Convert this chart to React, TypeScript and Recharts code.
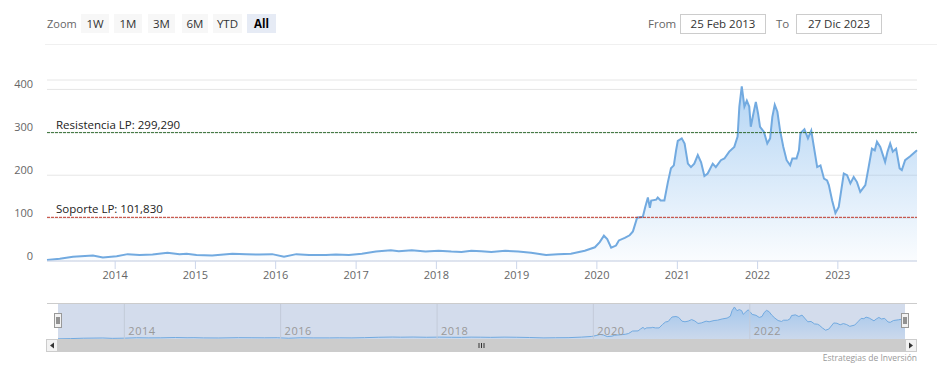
import React from 'react';
import {
  AreaChart,
  Area,
  XAxis,
  YAxis,
  CartesianGrid,
  ReferenceLine,
} from 'recharts';

const dates = [
  '2013-02-25', '2013-04-24', '2013-06-23', '2013-09-22', '2013-11-06',
  '2014-01-08', '2014-02-27', '2014-04-22', '2014-06-20', '2014-08-27', '2014-10-21', '2014-11-22',
  '2015-01-06', '2015-03-18', '2015-06-18', '2015-08-20', '2015-10-18', '2015-12-16',
  '2016-02-08', '2016-04-04', '2016-06-01', '2016-08-17', '2016-10-01', '2016-11-29',
  '2017-01-27', '2017-04-01', '2017-06-08', '2017-07-14', '2017-09-11', '2017-11-13',
  '2018-01-11', '2018-03-10', '2018-04-25', '2018-06-09', '2018-07-24', '2018-09-08', '2018-11-10',
  '2019-01-08', '2019-03-08', '2019-05-15', '2019-07-08', '2019-09-05', '2019-11-07', '2019-12-23',
  '2020-01-14', '2020-02-02', '2020-02-17', '2020-03-06', '2020-03-28', '2020-04-10', '2020-05-07',
  '2020-05-29', '2020-06-13', '2020-07-02', '2020-07-28', '2020-08-08', '2020-08-20', '2020-08-29',
  '2020-09-04', '2020-09-27', '2020-10-04', '2020-10-17', '2020-11-03', '2020-11-19', '2020-12-03',
  '2020-12-16', '2020-12-26',
  '2021-01-03', '2021-01-21', '2021-02-03', '2021-02-18', '2021-03-04', '2021-03-19', '2021-04-04',
  '2021-04-19', '2021-05-04', '2021-05-19', '2021-06-11', '2021-06-25', '2021-07-18', '2021-08-03',
  '2021-08-25', '2021-09-17', '2021-10-02', '2021-10-10', '2021-10-21', '2021-11-02', '2021-11-13',
  '2021-11-24', '2021-12-01', '2021-12-13', '2021-12-24',
  '2022-01-03', '2022-01-12', '2022-01-30', '2022-02-14', '2022-02-27', '2022-03-09', '2022-03-20',
  '2022-04-01', '2022-04-13', '2022-04-28', '2022-05-13', '2022-05-29', '2022-06-08', '2022-06-27',
  '2022-07-08', '2022-07-15', '2022-08-02', '2022-08-18', '2022-09-02', '2022-09-14', '2022-09-29',
  '2022-10-14', '2022-10-30', '2022-11-13', '2022-11-21', '2022-12-06', '2022-12-21',
  '2023-01-05', '2023-01-28', '2023-02-12', '2023-02-27', '2023-03-14', '2023-03-29', '2023-04-13',
  '2023-05-06', '2023-05-21', '2023-06-05', '2023-06-18', '2023-06-28', '2023-07-13', '2023-08-04',
  '2023-08-15', '2023-08-27', '2023-09-08', '2023-09-23', '2023-10-09', '2023-10-19', '2023-11-03',
  '2023-11-26', '2023-12-27',
];

const prices = [
  2.5, 5, 10, 13, 8,
  11, 16, 14, 15, 19, 16, 17,
  14, 13, 17, 16, 15, 16,
  10, 16, 14, 14, 15, 14,
  17, 22, 25, 23, 25, 22,
  24, 22, 21, 24, 23, 21, 24,
  22, 19, 14, 16, 17, 24, 32,
  44, 59, 51, 31, 36, 48, 54,
  60, 69, 101, 103, 126, 148, 124,
  141, 143, 148, 141, 141, 184, 216,
  223, 257,
  280, 286, 274, 227, 219, 227, 247,
  230, 198, 204, 227, 219, 235, 239,
  255, 266, 290, 360, 407, 360, 374,
  360, 313, 344, 371,
  344, 313, 301, 274, 286, 336, 364,
  348, 305, 266, 235, 223, 239, 239,
  258, 298, 307, 286, 304, 266, 219,
  223, 192, 188, 177, 141, 112,
  126, 204, 200, 181, 196, 184, 161,
  177, 219, 262, 258, 278, 266, 231,
  255, 274, 255, 262, 216, 212, 235,
  244, 258,
];

const yTicks = [0, 100, 200, 300, 400];
const yearTicks = [2014, 2015, 2016, 2017, 2018, 2019, 2020, 2021, 2022, 2023];
const navYears = [2014, 2016, 2018, 2020, 2022];
const zoomButtons = ['1W', '1M', '3M', '6M', 'YTD', 'All'];

const resistance = 299.29;
const support = 101.83;

const ts = (s: string) => Date.parse(s + 'T00:00:00Z');
const yearTs = (y: number) => Date.UTC(y, 0, 1);

const data = dates.map((d, i) => ({ t: ts(d), v: prices[i] }));
const domainX = [ts('2013-02-25'), ts('2023-12-27')];

const FONT = '"Open Sans", "DejaVu Sans", sans-serif';
const AXIS_Y = 261;
const LINE = '#72aae0';

const YTick = ({ y, payload }: any) => (
  <text x={33} y={y - 1} textAnchor="end" fill="#666" fontSize={11} fontFamily={FONT}>
    {payload.value}
  </text>
);

const XTick = ({ x, payload }: any) => (
  <g>
    <line x1={x} x2={x} y1={AXIS_Y} y2={AXIS_Y + 8} stroke="#ccd6eb" />
    <text x={x} y={AXIS_Y + 18} textAnchor="middle" fill="#666" fontSize={11} fontFamily={FONT}>
      {new Date(payload.value).getUTCFullYear()}
    </text>
  </g>
);

const lineLabel = (text: string) => (props: any) => {
  const { viewBox } = props;
  return (
    <text x={viewBox.x + 9} y={viewBox.y - 4} fill="#222" fontSize={11.5} fontFamily={FONT}>
      {text}
    </text>
  );
};

const navLabel = (year: number) => (props: any) => {
  const { viewBox } = props;
  return (
    <text x={viewBox.x + 4} y={viewBox.y + 31} fill="#999" fontSize={11} fontFamily={FONT} letterSpacing={0.5}>
      {year}
    </text>
  );
};

const btnBox = (left: number, width: number, active: boolean): React.CSSProperties => ({
  position: 'absolute',
  left,
  top: 14,
  width,
  height: 19,
  lineHeight: '19px',
  textAlign: 'center',
  background: active ? '#e6ebf5' : '#f7f7f7',
  color: active ? '#000' : '#333',
  fontWeight: active ? 700 : 400,
  fontSize: 11.5,
});

const inputBox = (left: number): React.CSSProperties => ({
  position: 'absolute',
  left,
  top: 14,
  width: 84,
  height: 18,
  lineHeight: '18px',
  border: '1px solid #cccccc',
  textAlign: 'center',
  color: '#333',
  fontSize: 11.5,
});

const btnLefts = [81, 114, 148, 182, 213, 247];
const btnWidths = [28, 28, 27, 26, 29, 29];

export default function App() {
  return (
    <div
      style={{
        position: 'absolute',
        left: 0,
        top: 0,
        width: 937,
        height: 387,
        background: '#fff',
        fontFamily: FONT,
        overflow: 'hidden',
      }}
    >
      {/* range selector */}
      <div style={{ position: 'absolute', left: 47, top: 14, lineHeight: '19px', fontSize: 11, color: '#666' }}>
        Zoom
      </div>
      {zoomButtons.map((b, i) => (
        <div key={b} style={btnBox(btnLefts[i], btnWidths[i], b === 'All')}>
          {b}
        </div>
      ))}
      <div style={{ position: 'absolute', left: 648, top: 14, lineHeight: '19px', fontSize: 11.5, color: '#666' }}>
        From
      </div>
      <div style={inputBox(680)}>25 Feb 2013</div>
      <div style={{ position: 'absolute', left: 776, top: 14, lineHeight: '19px', fontSize: 11.5, color: '#666' }}>
        To
      </div>
      <div style={inputBox(796)}>27 Dic 2023</div>
      <div style={{ position: 'absolute', left: 45, top: 44, width: 892, height: 1, background: '#f0f0f0' }} />

      {/* main chart */}
      <div style={{ position: 'absolute', left: 0, top: 0 }}>
        <AreaChart width={937} height={300} data={data} margin={{ top: 80, right: 20, bottom: 9, left: 0 }}>
          <defs>
            <linearGradient id="mainFill" x1="0" y1="0" x2="0" y2="1">
              <stop offset="0%" stopColor="#7cb5ec" stopOpacity={0.95} />
              <stop offset="100%" stopColor="#7cb5ec" stopOpacity={0.06} />
            </linearGradient>
          </defs>
          <CartesianGrid vertical={false} stroke="#e6e6e6" />
          <XAxis
            dataKey="t"
            type="number"
            scale="time"
            domain={domainX}
            ticks={yearTicks.map(yearTs)}
            tick={<XTick />}
            tickLine={false}
            axisLine={{ stroke: '#ccd6eb' }}
            height={30}
            interval={0}
          />
          <YAxis
            type="number"
            domain={[0, 422]}
            ticks={yTicks}
            tick={<YTick />}
            axisLine={false}
            tickLine={false}
            width={47}
            allowDataOverflow
          />
          <Area
            type="linear"
            dataKey="v"
            stroke={LINE}
            strokeWidth={2}
            fill="url(#mainFill)"
            dot={false}
            activeDot={false}
            isAnimationActive={false}
          />
          <ReferenceLine
            y={resistance}
            stroke="#2f6b2f"
            strokeDasharray="3 1"
            label={lineLabel('Resistencia LP: 299,290')}
          />
          <ReferenceLine
            y={support}
            stroke="#c0392b"
            strokeDasharray="3 1"
            label={lineLabel('Soporte LP: 101,830')}
          />
        </AreaChart>
      </div>

      {/* navigator */}
      <div style={{ position: 'absolute', left: 47, top: 303, width: 870, height: 1, background: '#cccccc' }} />
      <div style={{ position: 'absolute', left: 58, top: 304, width: 847, height: 35, background: '#d3dcec' }} />
      <div style={{ position: 'absolute', left: 58, top: 304 }}>
        <AreaChart width={847} height={35} data={data} margin={{ top: 0, right: 0, bottom: 0, left: 0 }}>
          <defs>
            <linearGradient id="navFill" x1="0" y1="0" x2="0" y2="1">
              <stop offset="0%" stopColor="#7cb5ec" stopOpacity={0.9} />
              <stop offset="100%" stopColor="#7cb5ec" stopOpacity={0.15} />
            </linearGradient>
          </defs>
          <XAxis dataKey="t" type="number" scale="time" domain={domainX} hide />
          <YAxis type="number" domain={[0, 445]} hide />
          {navYears.map((y) => (
            <ReferenceLine key={y} x={yearTs(y)} stroke="#c3cbd9" label={navLabel(y)} />
          ))}
          <Area
            type="linear"
            dataKey="v"
            stroke={LINE}
            strokeWidth={1}
            fill="url(#navFill)"
            dot={false}
            activeDot={false}
            isAnimationActive={false}
          />
        </AreaChart>
      </div>
      <svg style={{ position: 'absolute', left: 0, top: 0 }} width={937} height={387} pointerEvents="none">
        {[58, 905].map((hx) => (
          <g key={hx}>
            <rect x={hx - 3.5} y={313.5} width={7} height={14} fill="#f2f2f2" stroke="#999" />
            <line x1={hx - 1} x2={hx - 1} y1={317} y2={324} stroke="#333" />
            <line x1={hx + 1} x2={hx + 1} y1={317} y2={324} stroke="#333" />
          </g>
        ))}
        {/* scrollbar */}
        <rect x={58} y={339} width={847} height={13} fill="#cccccc" />
        <rect x={46.5} y={339.5} width={11} height={12} fill="#f2f2f2" stroke="#cccccc" />
        <rect x={905.5} y={339.5} width={11} height={12} fill="#f2f2f2" stroke="#cccccc" />
        <path d="M50 345.5 L54 342.5 L54 348.5 Z" fill="#333" />
        <path d="M913 345.5 L909 342.5 L909 348.5 Z" fill="#333" />
        {[479, 481.5, 484].map((gx) => (
          <line key={gx} x1={gx} x2={gx} y1={343} y2={348} stroke="#333" />
        ))}
        <text x={917} y={361} textAnchor="end" fill="#999" fontSize={8.5} fontFamily={FONT}>
          Estrategias de Inversión
        </text>
      </svg>
    </div>
  );
}
